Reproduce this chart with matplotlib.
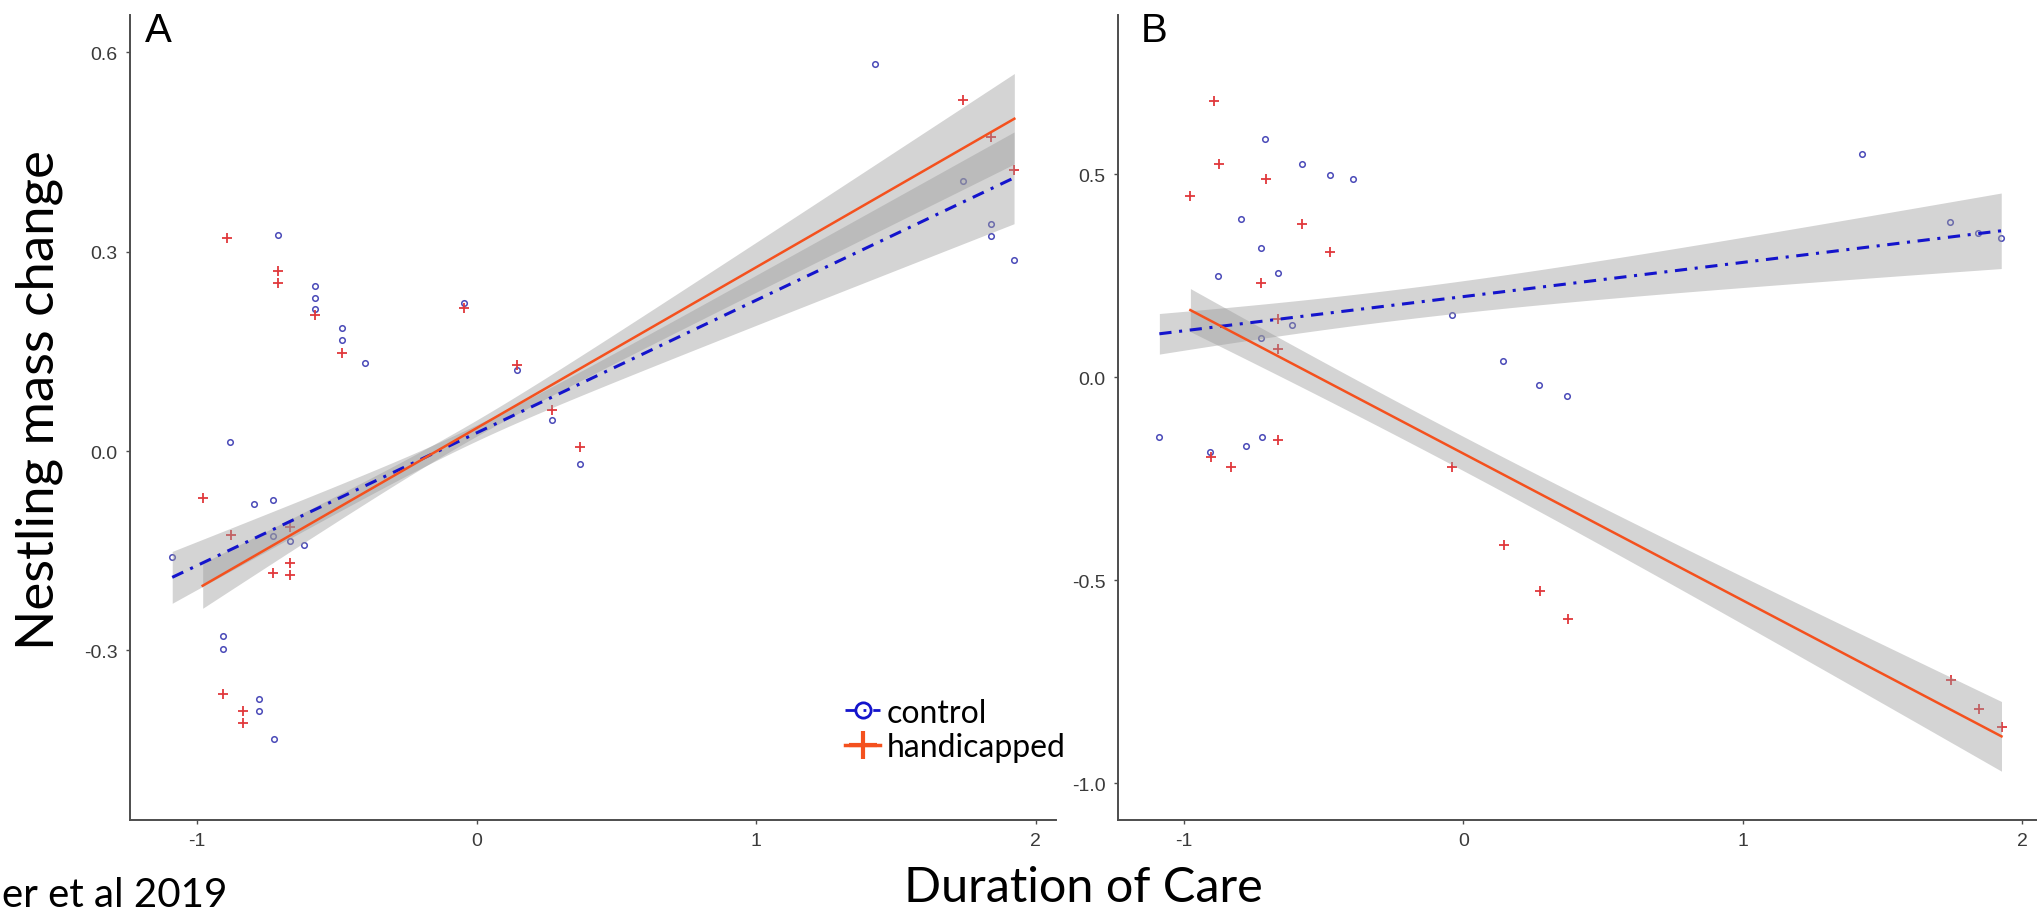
import numpy as np
import matplotlib
matplotlib.use('Agg')
import matplotlib.pyplot as plt
from matplotlib.lines import Line2D

# ---- panel A: nestling mass change vs duration of care ----
a_ctrl_x = [-0.711, -0.580, -0.580, -0.580, -0.480, -0.480, -0.398, -0.044, 0.143, 0.271,
            0.368, -0.881, -0.797, -0.729, -0.729, -0.667, -0.617, -1.089, -0.908, -0.908,
            -0.779, -0.779, -0.726, 1.425, 1.738, 1.839, 1.839, 1.922]
a_ctrl_y = [0.325, 0.249, 0.231, 0.214, 0.185, 0.167, 0.132, 0.223, 0.122, 0.046,
            -0.019, 0.014, -0.079, -0.073, -0.128, -0.136, -0.141, -0.160, -0.278, -0.298,
            -0.373, -0.391, -0.433, 0.582, 0.406, 0.341, 0.324, 0.288]
a_hand_x = [-0.893, -0.710, -0.710, -0.580, -0.480, -0.044, 0.143, 0.271, 0.368, -0.980,
            -0.880, -0.667, -0.667, -0.727, -0.666, -0.906, -0.835, -0.835, 1.741, 1.841, 1.923]
a_hand_y = [0.320, 0.271, 0.253, 0.204, 0.148, 0.215, 0.129, 0.062, 0.006, -0.071,
            -0.127, -0.114, -0.168, -0.183, -0.187, -0.365, -0.391, -0.409, 0.528, 0.472, 0.423]

# ---- panel B ----
b_ctrl_x = [-0.709, -0.579, -0.479, -0.394, -0.795, -0.726, -0.877, -0.665, -0.615, -0.042,
            -0.726, 0.141, 0.271, 0.369, -1.088, -0.908, -0.777, -0.721, 1.427, 1.741, 1.842, 1.924]
b_ctrl_y = [0.587, 0.526, 0.499, 0.490, 0.389, 0.318, 0.249, 0.257, 0.128, 0.154,
            0.096, 0.041, -0.018, -0.045, -0.146, -0.185, -0.169, -0.146, 0.551, 0.382, 0.355, 0.343]
b_hand_x = [-0.891, -0.876, -0.708, -0.977, -0.576, -0.476, -0.724, -0.664, -0.664, -0.905,
            -0.664, -0.832, -0.041, 0.144, 0.274, 0.373, 1.743, 1.844, 1.925]
b_hand_y = [0.681, 0.526, 0.490, 0.448, 0.377, 0.308, 0.232, 0.144, 0.070, -0.197,
            -0.154, -0.222, -0.222, -0.413, -0.527, -0.596, -0.747, -0.818, -0.862]

# fitted lines [intercept, slope] and ribbon [min half width, centre x, growth]
a_ctrl_fit = [0.0274, 0.1996]
a_ctrl_band = [0.012, -0.025, 0.0349]
a_hand_fit = [0.0346, 0.242]
a_hand_band = [0.012, -0.046, 0.034]
b_ctrl_fit = [0.199, 0.0843]
b_ctrl_band = [0.038, -0.254, 0.039]
b_hand_fit = [-0.188, -0.362]
b_hand_band = [0.042, -0.10, 0.037]

x_ticks = [-1, 0, 1, 2]
a_yticks = [-0.3, 0.0, 0.3, 0.6]
a_ylabels = ['-0.3', '0.0', '0.3', '0.6']
b_yticks = [-1.0, -0.5, 0.0, 0.5]
b_ylabels = ['-1.0', '-0.5', '0.0', '0.5']

BLUE = '#1414CC'
ORANGE = '#F4511E'
RED = '#E0383C'
TICKC = '#3a3a3a'
DASHDOT = (0, (4, 2.5, 1, 2.5))

fig = plt.figure(figsize=(20.37, 9.12), dpi=100)
axA = fig.add_axes([130/2037, 91/912, 926/2037, 805/912])
axB = fig.add_axes([1118/2037, 91/912, 919/2037, 805/912])


def draw_fit(ax, xs, fit, band, color, ls, lw):
    xx = np.linspace(min(xs), max(xs), 200)
    yy = fit[0] + fit[1] * xx
    h = np.sqrt(band[0] ** 2 + (band[2] * (xx - band[1])) ** 2)
    ax.fill_between(xx, yy - h, yy + h, color='#999999', alpha=0.42, lw=0, zorder=2)
    ax.plot(xx, yy, color=color, ls=ls, lw=lw, zorder=3)


def panel(ax, cx, cy, hx, hy, cfit, cband, hfit, hband, ylim, xlim, yt, yl):
    ax.plot(cx, cy, ls='none', marker='o', ms=4, mfc='none', mec='#4a4ab8', mew=1.1, zorder=1)
    ax.plot(hx, hy, ls='none', marker='+', ms=7, mec=RED, mew=1.3, zorder=1)
    draw_fit(ax, cx, cfit, cband, BLUE, DASHDOT, 2.2)
    draw_fit(ax, hx, hfit, hband, ORANGE, '-', 1.8)
    ax.set_xlim(*xlim)
    ax.set_ylim(*ylim)
    ax.set_xticks(x_ticks)
    ax.set_xticklabels([str(t) for t in x_ticks])
    ax.set_yticks(yt)
    ax.set_yticklabels(yl)
    for s in ['top', 'right']:
        ax.spines[s].set_visible(False)
    for s in ['left', 'bottom']:
        ax.spines[s].set_color('#4d4d4d')
        ax.spines[s].set_linewidth(1.4)
    ax.tick_params(direction='out', length=3, width=1, color='#4d4d4d',
                   labelcolor=TICKC, labelsize=14, pad=6)
    for lab in ax.get_xticklabels() + ax.get_yticklabels():
        lab.set_family('Liberation Sans')


panel(axA, a_ctrl_x, a_ctrl_y, a_hand_x, a_hand_y, a_ctrl_fit, a_ctrl_band,
      a_hand_fit, a_hand_band, (-0.555, 0.656), (-1.24, 2.072), a_yticks, a_ylabels)
panel(axB, b_ctrl_x, b_ctrl_y, b_hand_x, b_hand_y, b_ctrl_fit, b_ctrl_band,
      b_hand_fit, b_hand_band, (-1.091, 0.893), (-1.236, 2.052), b_yticks, b_ylabels)

fig.text(145/2037, 1 - 42/912, 'A', fontsize=29, family='Liberation Sans', va='baseline')
fig.text(1141/2037, 1 - 42/912, 'B', fontsize=29, family='Liberation Sans', va='baseline')

fig.text(39/2037, 1 - 400/912, 'Nestling mass change', fontsize=38, family='Lato',
         rotation=90, ha='center', va='center')
fig.text(1083/2037, 1 - 888/912, 'Duration of Care', fontsize=35, family='Lato',
         ha='center', va='center')
fig.text(2/2037, 1 - 907/912, 'er et al 2019', fontsize=29, family='Lato',
         ha='left', va='baseline')

handles = [Line2D([], [], color=BLUE, ls=DASHDOT, lw=2, marker='o', ms=11, mfc='none',
                  mec=BLUE, mew=2),
           Line2D([], [], color=ORANGE, ls='-', lw=2.5, marker='+', ms=20, mec=ORANGE, mew=3)]
fig.legend(handles, ['control', 'handicapped'], loc='center left',
           bbox_to_anchor=(845/2037, 1 - 731/912), frameon=False,
           prop={'family': 'Lato', 'size': 23}, handlelength=1.1, handletextpad=0.2,
           labelspacing=0.15, borderpad=0, borderaxespad=0)

fig.savefig('out.png', dpi=100)
